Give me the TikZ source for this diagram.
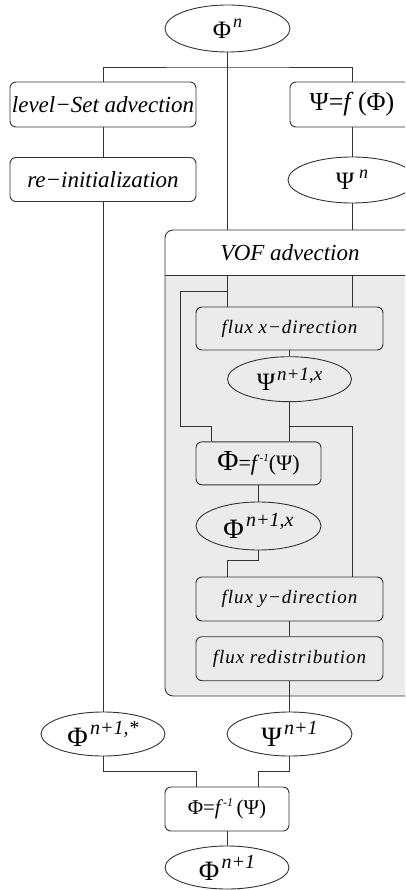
\documentclass[tikz,border=0pt]{standalone}
\usepackage{fontspec}
\setmainfont{Liberation Serif}
\newfontfamily\fluxfont[LetterSpace=5]{Liberation Serif}
\usetikzlibrary{shapes.geometric}
\definecolor{ln}{HTML}{333333}
\definecolor{bg}{HTML}{EBEBEB}
\newcommand{\symb}[4]{{\fontsize{#1}{#1}\selectfont #2\kern0.08em\raisebox{0.43em}{\fontsize{#3}{#3}\selectfont\itshape #4}}}
\tikzset{
  box/.style={draw=ln, line width=0.9pt, rounded corners=6pt, inner sep=0pt, fill=white},
  ibox/.style={box, fill=bg},
  ell/.style={draw=ln, line width=0.9pt, ellipse, inner sep=0pt, fill=white},
  iell/.style={ell, fill=bg},
  conn/.style={draw=ln, line width=0.9pt},
  lbl/.style={font=\fontsize{23}{25}\selectfont\itshape},
  flx/.style={font=\fluxfont\fontsize{19}{21}\selectfont\itshape},
}
\begin{document}
\begin{tikzpicture}[x=1pt,y=-1pt]
\useasboundingbox (0,0) rectangle (405,890);
\clip (0,0) rectangle (405,890);
% outer nodes
\node[ell, minimum width=125pt, minimum height=47pt] (phin) at (227.5,28.5) {\symb{25}{Φ}{18}{n}};
\node[box, lbl, minimum width=186pt, minimum height=45pt] (ls) at (103,104.5) {level−Set advection};
\node[box, lbl, minimum width=186pt, minimum height=44pt] (ri) at (103,179.5) {re−initialization};
\node[box, minimum width=124pt, minimum height=45pt, font=\fontsize{26}{28}\selectfont] (psif) at (352,104.5) {Ψ=\textit{f}\,(Φ)};
\node[ell, minimum width=128pt, minimum height=46pt] (psin) at (352,180) {\symb{25}{Ψ}{18}{\,n}};
% VOF container
\begin{scope}
  \clip (160,225) rectangle (420,275);
  \fill[white, rounded corners=8pt] (165,230) rectangle (415,696);
\end{scope}
\begin{scope}
  \clip (160,275) rectangle (420,700);
  \fill[bg, rounded corners=8pt] (165,230) rectangle (415,696);
\end{scope}
\node[draw=ln, line width=0.9pt, rounded corners=8pt, inner sep=0pt, minimum width=250pt, minimum height=466pt] (vof) at (290,463) {};
\coordinate (hA) at (227.5,275);
\coordinate (hB) at (352,275);
\draw[conn] (vof.west |- hA) -- (vof.east |- hA);
\node[lbl] (vofh) at (290,252.5) {VOF advection};
% inner nodes
\node[ibox, flx, minimum width=187pt, minimum height=43pt] (fx) at (289.5,328.5) {flux x−direction};
\node[iell, minimum width=124pt, minimum height=45pt] (psix) at (289.5,379.2) {\symb{25}{Ψ}{19}{n+1,x}};
\node[ibox, minimum width=125pt, minimum height=43pt] (phibox) at (258.5,463.3) {{\fontsize{29}{29}\selectfont Φ}{\fontsize{22}{22}\selectfont=\textit{f}\raisebox{0.4em}{\fontsize{11}{11}\selectfont\itshape -1}(Ψ)}};
\node[iell, minimum width=125pt, minimum height=48pt] (phix) at (258.5,526) {\symb{28}{Φ}{20}{n+1,x}};
\node[ibox, flx, minimum width=187pt, minimum height=44pt] (fy) at (289.5,599) {flux y−direction};
\node[ibox, flx, minimum width=187pt, minimum height=44pt] (fr) at (289.5,658.7) {flux redistribution};
% bottom nodes
\node[ell, minimum width=124pt, minimum height=44pt] (phis) at (103,734) {\symb{28}{Φ}{20}{n+1,*}};
\node[ell, minimum width=125pt, minimum height=44pt] (psi1) at (289.5,734) {\symb{28}{Ψ}{20}{n+1}};
\node[box, minimum width=124pt, minimum height=44pt, font=\fontsize{21}{23}\selectfont] (fin) at (227,809) {Φ=\textit{f}\raisebox{0.4em}{\fontsize{12}{12}\selectfont\itshape -1}\,(Ψ)};
\node[ell, minimum width=124pt, minimum height=43pt] (phi1) at (227,867.5) {\symb{28}{Φ}{20}{n+1}};
% outer connectors
\draw[conn] (phin) -- (phin |- vof.north);
\draw[conn] (ls.north) |- (227.5,67) -| (psif.north);
\draw[conn] (ls) -- (ri);
\draw[conn] (ri) -- (phis);
\draw[conn] (psif) -- (psin);
\draw[conn] (psin) -- (psin |- vof.north);
% inner connectors
\draw[conn] (hA) -- (hA |- fx.north);
\draw[conn] (hB) -- (hB |- fx.north);
\draw[conn] (227.5,291) -| (180.7,426) -| ([xshift=-46.8pt]phibox.north);
\draw[conn] (fx) -- (psix);
\draw[conn] (psix.south) -- (psix.south |- phibox.north);
\draw[conn] (289.5,426) -| (hB |- fy.north);
\draw[conn] (phibox) -- (phix);
\draw[conn] (phix.south) -- (258.5,560.7) -| (hA |- fy.north);
\draw[conn] (fy) -- (fr);
\draw[conn] (fr) -- (psi1);
% bottom connectors
\draw[conn] (phis.south) -- ++(0,15) -| ([xshift=-31pt]fin.north);
\draw[conn] (psi1.south) -- ++(0,15) -| ([xshift=31pt]fin.north);
\draw[conn] (fin) -- (phi1);
\end{tikzpicture}
\end{document}
